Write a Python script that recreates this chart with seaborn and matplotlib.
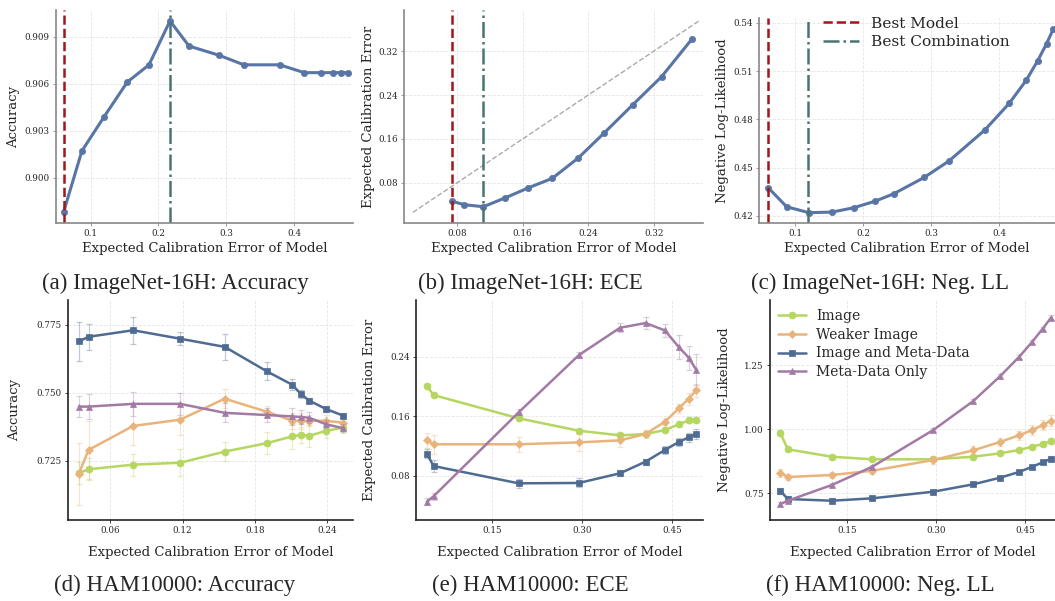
import numpy as np
import seaborn as sns
import matplotlib.pyplot as plt
from matplotlib.lines import Line2D

# ImageNet-16H (top row)
ece_model = [0.060, 0.087, 0.120, 0.154, 0.186, 0.217, 0.245, 0.290, 0.326, 0.379, 0.415, 0.440, 0.457, 0.470, 0.480]
acc_in = [0.8978, 0.9017, 0.9039, 0.9061, 0.9072, 0.9100, 0.9084, 0.9078, 0.9072, 0.9072, 0.9067, 0.9067, 0.9067, 0.9067, 0.9067]
nll_in = [0.4374, 0.4256, 0.4219, 0.4223, 0.4250, 0.4290, 0.4337, 0.4439, 0.4540, 0.4733, 0.4899, 0.5042, 0.5164, 0.5270, 0.5361]
ece_model_b = [0.074, 0.089, 0.112, 0.139, 0.167, 0.196, 0.228, 0.2595, 0.294, 0.3295, 0.367]
ece_in = [0.0462, 0.0400, 0.0364, 0.0527, 0.0709, 0.0880, 0.1255, 0.1710, 0.2218, 0.2735, 0.3430]
best_model = {"a": 0.060, "b": 0.074, "c": 0.060}
best_comb = {"a": 0.217, "b": 0.112, "c": 0.118}

# HAM10000 (bottom row)
series = ["Image", "Weaker Image", "Image and Meta-Data", "Meta-Data Only"]
colors = ["#b5d65f", "#e9b47c", "#4f6b91", "#a27aa4"]
markers = ["o", "D", "s", "^"]

x_d = [0.034, 0.042, 0.079, 0.118, 0.155, 0.190, 0.211, 0.218, 0.225, 0.239, 0.253]
acc_img = [0.7205, 0.7219, 0.7236, 0.7243, 0.7284, 0.7315, 0.7340, 0.7345, 0.7342, 0.7360, 0.7372]
acc_weak = [0.7202, 0.7290, 0.7378, 0.7401, 0.7478, 0.7430, 0.7397, 0.7397, 0.7397, 0.7397, 0.7390]
acc_both = [0.7688, 0.7705, 0.7729, 0.7698, 0.7668, 0.7578, 0.7529, 0.7495, 0.7471, 0.7440, 0.7416]
acc_meta = [0.7449, 0.7449, 0.7459, 0.7459, 0.7426, 0.7418, 0.7413, 0.7411, 0.7408, 0.7384, 0.7370]
acc_img_err = [0.004, 0.004, 0.004, 0.005, 0.0035, 0.004, 0.0045, 0.003, 0.004, 0.0025, 0.002]
acc_weak_err = [0.0115, 0.0105, 0.007, 0.0055, 0.0035, 0.002, 0.003, 0.003, 0.002, 0.002, 0.002]
acc_both_err = [0.0072, 0.0047, 0.005, 0.0023, 0.0047, 0.0033, 0.002, 0.0015, 0.001, 0.001, 0.001]
acc_meta_err = [0.004, 0.0045, 0.0045, 0.004, 0.0035, 0.0025, 0.003, 0.0025, 0.002, 0.0015, 0.0015]

x_e = [0.041, 0.052, 0.194, 0.2945, 0.363, 0.4055, 0.4376, 0.461, 0.4775, 0.490]
ece_img = [0.2007, 0.1882, 0.1569, 0.1402, 0.1340, 0.1358, 0.1411, 0.1488, 0.1542, 0.1550]
ece_weak = [0.1273, 0.1220, 0.1220, 0.1246, 0.1273, 0.1358, 0.1523, 0.1703, 0.1833, 0.1945]
ece_both = [0.1093, 0.0928, 0.0695, 0.0700, 0.0830, 0.0986, 0.1143, 0.1251, 0.1314, 0.1362]
ece_meta = [0.0448, 0.0520, 0.1650, 0.2420, 0.2787, 0.2850, 0.2752, 0.2527, 0.2384, 0.2222]
ece_img_err = [0.003, 0.003, 0.004, 0.003, 0.003, 0.003, 0.003, 0.003, 0.003, 0.004]
ece_weak_err = [0.010, 0.013, 0.010, 0.011, 0.009, 0.006, 0.005, 0.006, 0.008, 0.009]
ece_both_err = [0.006, 0.008, 0.006, 0.006, 0.004, 0.004, 0.005, 0.005, 0.006, 0.007]
ece_meta_err = [0.005, 0.005, 0.004, 0.004, 0.006, 0.008, 0.009, 0.016, 0.016, 0.021]

x_f = [0.0386, 0.051, 0.125, 0.193, 0.2955, 0.3626, 0.4075, 0.4394, 0.4617, 0.4791, 0.4931]
nll_img = [0.9867, 0.9217, 0.8927, 0.8825, 0.8825, 0.8927, 0.9060, 0.9190, 0.9320, 0.9424, 0.9542]
nll_weak = [0.8300, 0.8132, 0.8210, 0.8378, 0.8797, 0.9177, 0.9503, 0.9765, 0.9973, 1.0168, 1.0337]
nll_both = [0.7595, 0.7270, 0.7203, 0.7297, 0.7556, 0.7846, 0.8104, 0.8328, 0.8535, 0.8707, 0.8848]
nll_meta = [0.7074, 0.7203, 0.7818, 0.8535, 0.9973, 1.1108, 1.2076, 1.2832, 1.3431, 1.3940, 1.4371]
nll_img_err = [0.010, 0.008, 0.008, 0.008, 0.008, 0.008, 0.008, 0.008, 0.008, 0.008, 0.010]
nll_weak_err = [0.015, 0.012, 0.012, 0.012, 0.015, 0.015, 0.015, 0.018, 0.018, 0.020, 0.022]
nll_both_err = [0.012, 0.010, 0.010, 0.008, 0.008, 0.008, 0.008, 0.008, 0.008, 0.008, 0.010]
nll_meta_err = [0.008, 0.008, 0.008, 0.008, 0.008, 0.008, 0.008, 0.008, 0.008, 0.008, 0.010]

captions = ["(a) ImageNet-16H: Accuracy", "(b) ImageNet-16H: ECE", "(c) ImageNet-16H: Neg. LL",
            "(d) HAM10000: Accuracy", "(e) HAM10000: ECE", "(f) HAM10000: Neg. LL"]

sns.set_theme(style="whitegrid")
plt.rcParams["font.family"] = ["DejaVu Serif"]

line_col = "#5875a6"
red = "#a51419"
teal = "#4a7471"
W, H = 1055, 601

fig = plt.figure(figsize=(10.55, 6.01), dpi=100)


def make_ax(l, r, t, b):
    return fig.add_axes([l / W, 1 - b / H, (r - l) / W, (b - t) / H])


def style(ax, xlim, ylim, xt, yt, xfmt, yfmt, ylabel, ylab_x, spine="#888888", xpad=3):
    ax.set_xlim(*xlim)
    ax.set_ylim(*ylim)
    ax.set_xticks(xt)
    ax.set_yticks(yt)
    ax.set_xticklabels([xfmt.format(v) for v in xt])
    ax.set_yticklabels([yfmt.format(v) for v in yt])
    ax.tick_params(labelsize=6.3, length=2.5, width=0.6, color=spine, pad=2, left=True, bottom=True)
    ax.grid(True, ls="--", lw=0.6, color="#e6e6e6")
    for s in ["top", "right"]:
        ax.spines[s].set_visible(False)
    for s in ["left", "bottom"]:
        ax.spines[s].set_color(spine)
        ax.spines[s].set_linewidth(1.2)
    ax.set_facecolor("white")
    ax.set_xlabel("Expected Calibration Error of Model", fontsize=9.5, labelpad=xpad)
    ax.set_ylabel(ylabel, fontsize=9.5)
    ax.yaxis.set_label_coords(ylab_x, 0.5)


def top_line(ax, x, y):
    sns.lineplot(x=x, y=y, ax=ax, color=line_col, lw=2.2, marker="o", markersize=4.5,
                 markeredgecolor=line_col, markeredgewidth=0.5, legend=False)


# (a)
ax = make_ax(56, 353, 10, 223)
top_line(ax, ece_model, acc_in)
ax.axvline(best_model["a"], color=red, ls="--", lw=1.8)
ax.axvline(best_comb["a"], color=teal, ls="-.", lw=1.8)
style(ax, (0.0488, 0.487), (0.8971, 0.9107), [0.1, 0.2, 0.3, 0.4], [0.900, 0.903, 0.906, 0.909],
      "{:.1f}", "{:.3f}", "Accuracy", -0.121)

# (b)
ax = make_ax(404, 703, 10, 223)
ax.plot([0.026, 0.376], [0.026, 0.376], ls="--", color="#aaaaaa", lw=1.0)
top_line(ax, ece_model_b, ece_in)
ax.axvline(best_model["b"], color=red, ls="--", lw=1.8)
ax.axvline(best_comb["b"], color=teal, ls="-.", lw=1.8)
style(ax, (0.0152, 0.380), (0.0067, 0.395), [0.08, 0.16, 0.24, 0.32], [0.08, 0.16, 0.24, 0.32],
      "{:.2f}", "{:.2f}", "Expected Calibration Error", -0.097)

# (c)
ax = make_ax(759, 1055, 18, 223)
top_line(ax, ece_model, nll_in)
ax.axvline(best_model["c"], color=red, ls="--", lw=1.8)
ax.axvline(best_comb["c"], color=teal, ls="-.", lw=1.8)
style(ax, (0.0463, 0.4825), (0.4155, 0.543), [0.1, 0.2, 0.3, 0.4], [0.42, 0.45, 0.48, 0.51, 0.54],
      "{:.1f}", "{:.2f}", "Negative Log-Likelihood", -0.102)
handles = [Line2D([], [], color=red, ls="--", lw=1.8), Line2D([], [], color=teal, ls="-.", lw=1.8)]
ax.legend(handles, ["Best Model", "Best Combination"], loc="upper left", bbox_to_anchor=(0.17, 1.075),
          frameon=False, fontsize=11.1, handlelength=2.3, labelspacing=0.3, handletextpad=0.8)


def bottom(ax, x, ys, errs, legend=False):
    for name, y, e, c, m in zip(series, ys, errs, colors, markers):
        ax.errorbar(x, y, yerr=e, fmt="none", ecolor=c, alpha=0.35, elinewidth=0.9, capsize=2.2, capthick=0.9)
        ms = 4.3 if m == "D" else 5.0
        sns.lineplot(x=x, y=y, ax=ax, color=c, lw=1.8, marker=m, markersize=ms, markeredgecolor=c,
                     markeredgewidth=0.5, label=name if legend else None, legend=False)


# (d)
ax = make_ax(68, 353, 300, 520)
bottom(ax, x_d, [acc_img, acc_weak, acc_both, acc_meta],
       [acc_img_err, acc_weak_err, acc_both_err, acc_meta_err])
style(ax, (0.025, 0.2613), (0.7033, 0.784), [0.06, 0.12, 0.18, 0.24], [0.725, 0.750, 0.775],
      "{:.2f}", "{:.3f}", "Accuracy", -0.165, spine="#222222", xpad=8)

# (e)
ax = make_ax(416, 703, 300, 520)
bottom(ax, x_e, [ece_img, ece_weak, ece_both, ece_meta],
       [ece_img_err, ece_weak_err, ece_both_err, ece_meta_err])
style(ax, (0.0228, 0.5013), (0.0202, 0.316), [0.15, 0.30, 0.45], [0.08, 0.16, 0.24],
      "{:.2f}", "{:.2f}", "Expected Calibration Error", -0.139, spine="#222222", xpad=8)

# (f)
ax = make_ax(770, 1055, 300, 520)
bottom(ax, x_f, [nll_img, nll_weak, nll_both, nll_meta],
       [nll_img_err, nll_weak_err, nll_both_err, nll_meta_err], legend=True)
style(ax, (0.0213, 0.4998), (0.6448, 1.5065), [0.15, 0.30, 0.45], [0.75, 1.00, 1.25],
      "{:.2f}", "{:.2f}", "Negative Log-Likelihood", -0.137, spine="#222222", xpad=8)
ax.legend(loc="upper left", bbox_to_anchor=(-0.015, 1.015), frameon=False, fontsize=10,
          handlelength=2.0, labelspacing=0.33, handletextpad=0.75)

# captions
for i, cap in enumerate(captions):
    cx = [175, 530, 880][i % 3]
    cy = 283 if i < 3 else 585
    fig.text(cx / W, 1 - cy / H, cap, ha="center", va="center", fontsize=16.5, family="Liberation Serif")

plt.savefig("out.png", dpi=100)
